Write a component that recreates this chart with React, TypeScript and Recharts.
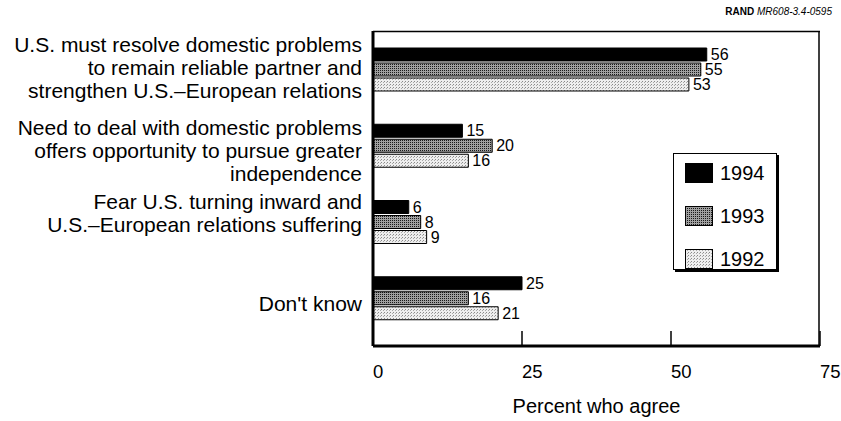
import React from 'react';
import { BarChart, Bar, XAxis, YAxis, Legend, LabelList, CartesianGrid } from 'recharts';

const categories = [
  'U.S. must resolve domestic problems\nto remain reliable partner and\nstrengthen U.S.\u2013European relations',
  'Need to deal with domestic problems\noffers opportunity to pursue greater\nindependence',
  'Fear U.S. turning inward and\nU.S.\u2013European relations suffering',
  "Don't know",
];
const values1994 = [56, 15, 6, 25];
const values1993 = [55, 20, 8, 16];
const values1992 = [53, 16, 9, 21];
const xTicks = [0, 25, 50, 75];
const seriesNames = ['1994', '1993', '1992'];
const xTitle = 'Percent who agree';

const data = categories.map((c, i) => ({
  category: c,
  y1994: values1994[i],
  y1993: values1993[i],
  y1992: values1992[i],
}));

const FONT = '"Liberation Sans", Arial, Helvetica, sans-serif';
const FILLS: Record<string, string> = {
  '1994': '#000000',
  '1993': 'url(#pat1993)',
  '1992': 'url(#pat1992)',
};
// small vertical nudges of the category label blocks, as set in the original figure
const LABEL_NUDGE = [-1.5, 5, -9, 6];

const CategoryTick = (props: any) => {
  const { x, y, payload, index } = props;
  const lines = String(payload.value).split('\n');
  const lh = 23;
  const nudge = LABEL_NUDGE[index] || 0;
  const first = y - ((lines.length - 1) * lh) / 2 + 7.5 + nudge;
  return (
    <text x={x} y={first} textAnchor="end" fill="#000" fontSize={21} fontFamily={FONT}>
      {lines.map((l: string, i: number) => (
        <tspan key={i} x={x} y={first + i * lh}>
          {l}
        </tspan>
      ))}
    </text>
  );
};

const XTick = (props: any) => {
  const { x, y, payload } = props;
  return (
    <text x={x} y={y} textAnchor="start" fill="#000" fontSize={18.5} fontFamily={FONT}>
      {payload.value}
    </text>
  );
};

const LegendBox = () => {
  return (
    <div
      style={{
        width: 104,
        height: 117,
        boxSizing: 'border-box',
        border: '1px solid #000',
        boxShadow: '2px 2px 0 #000',
        background: '#fff',
        paddingTop: 9,
        paddingLeft: 11,
        fontFamily: FONT,
      }}
    >
      {seriesNames.map((name: string, i: number) => (
        <div
          key={name}
          style={{ display: 'flex', alignItems: 'center', height: 20, marginTop: i === 0 ? 0 : 23 }}
        >
          <svg width={28} height={20} style={{ display: 'block' }}>
            <rect x={0.5} y={0.5} width={27} height={19} fill={FILLS[name]} stroke="#000" strokeWidth={1} />
          </svg>
          <span style={{ marginLeft: 7, fontSize: 20, lineHeight: '20px', color: '#000' }}>{name}</span>
        </div>
      ))}
    </div>
  );
};

export default function App() {
  return (
    <div style={{ position: 'absolute', left: 0, top: 0, width: 841, height: 421, background: '#fff' }}>
      <div
        style={{
          position: 'absolute',
          right: 9,
          top: 6,
          fontFamily: FONT,
          fontSize: 10,
          color: '#000',
          zIndex: 2,
        }}
      >
        <b>RAND</b> <i>MR608-3.4-0595</i>
      </div>
      <BarChart
        width={841}
        height={421}
        data={data}
        layout="vertical"
        margin={{ top: 31, right: 21, left: 0, bottom: 0 }}
        barGap={2}
      >
        <defs>
          <pattern id="pat1993" patternUnits="userSpaceOnUse" width={2} height={2}>
            <rect x={0} y={0} width={2} height={2} fill="#a0a0a0" />
            <rect x={0} y={0} width={1} height={1} fill="#1a1a1a" />
          </pattern>
          <pattern id="pat1992" patternUnits="userSpaceOnUse" width={3} height={3}>
            <rect x={0} y={0} width={3} height={3} fill="#eeeeee" />
            <rect x={0} y={0} width={1} height={1} fill="#8a8a8a" />
            <rect x={2} y={1} width={1} height={1} fill="#aaaaaa" />
          </pattern>
        </defs>
        <CartesianGrid
          stroke="#000"
          strokeWidth={1.5}
          horizontalCoordinatesGenerator={(p: any) => [p.offset.top + 0.5]}
          verticalCoordinatesGenerator={(p: any) => [p.offset.left + p.offset.width - 1]}
        />
        <XAxis
          type="number"
          domain={[0, 75]}
          ticks={xTicks}
          height={75}
          axisLine={{ stroke: '#000', strokeWidth: 3 }}
          tickLine={{ stroke: '#000', strokeWidth: 1.5 }}
          tickSize={-15}
          tickMargin={47}
          tick={<XTick />}
          interval={0}
          label={{
            value: xTitle,
            position: 'insideBottom',
            offset: 8,
            style: { fontSize: 20, fill: '#000', fontFamily: FONT },
          }}
        />
        <YAxis
          type="category"
          dataKey="category"
          width={373}
          axisLine={{ stroke: '#000', strokeWidth: 3 }}
          tickLine={false}
          tickSize={0}
          tickMargin={11}
          tick={<CategoryTick />}
          interval={0}
          padding={{ top: 0, bottom: 10 }}
        />
        <Legend
          layout="horizontal"
          verticalAlign="middle"
          align="center"
          content={<LegendBox />}
          wrapperStyle={{ left: 673, top: 153, width: 104, height: 117 }}
        />
        <Bar dataKey="y1994" name={seriesNames[0]} fill={FILLS['1994']} stroke="#000" strokeWidth={1} barSize={13} isAnimationActive={false}>
          <LabelList dataKey="y1994" position="right" offset={4} style={{ fontSize: 16, fill: '#000', fontFamily: FONT }} />
        </Bar>
        <Bar dataKey="y1993" name={seriesNames[1]} fill={FILLS['1993']} stroke="#000" strokeWidth={1} barSize={13} isAnimationActive={false}>
          <LabelList dataKey="y1993" position="right" offset={4} style={{ fontSize: 16, fill: '#000', fontFamily: FONT }} />
        </Bar>
        <Bar dataKey="y1992" name={seriesNames[2]} fill={FILLS['1992']} stroke="#000" strokeWidth={1} barSize={13} isAnimationActive={false}>
          <LabelList dataKey="y1992" position="right" offset={4} style={{ fontSize: 16, fill: '#000', fontFamily: FONT }} />
        </Bar>
      </BarChart>
    </div>
  );
}
